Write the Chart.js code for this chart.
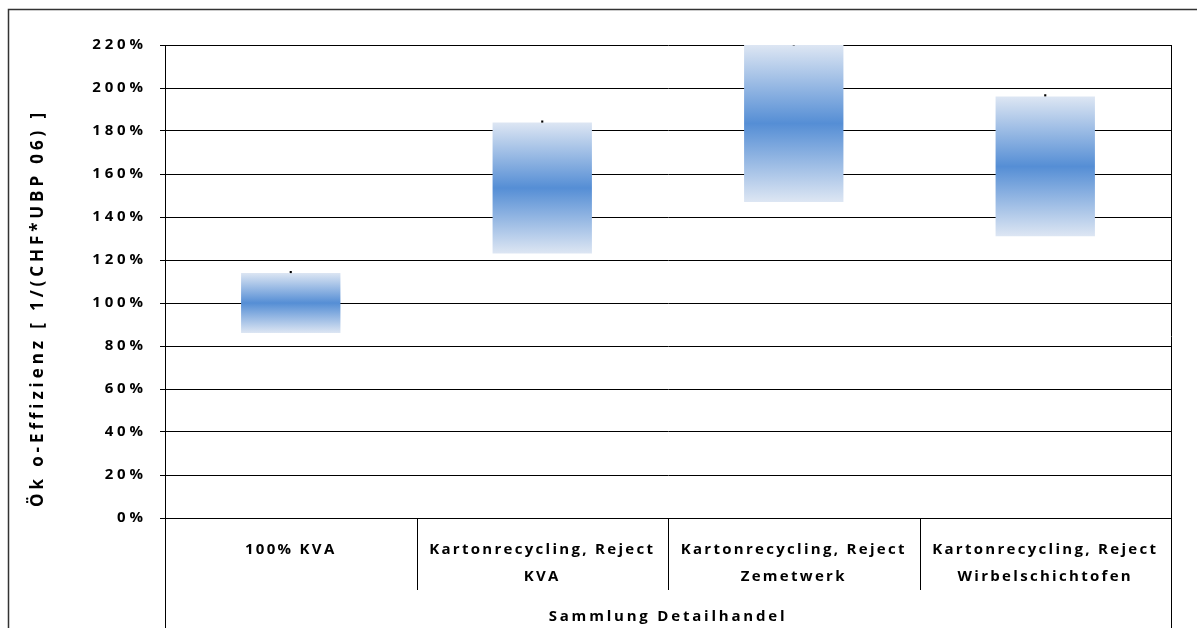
<!DOCTYPE html>
<html><head><meta charset="utf-8">
<script src="https://cdn.jsdelivr.net/npm/chart.js@4/dist/chart.umd.min.js"></script>
<style>html,body{margin:0;padding:0;background:#fff}</style>
</head><body>
<canvas id="c" width="1197" height="628"></canvas>
<script>
const categories = ["100% KVA", ["Kartonrecycling, Reject", "KVA"], ["Kartonrecycling, Reject", "Zemetwerk"], ["Kartonrecycling, Reject", "Wirbelschichtofen"]];
const lowValues = [86, 123, 147, 131];
const highValues = [114, 184, 220, 196];
const markerValues = [114.4, 184.4, 220.3, 196.6];
const yTickValues = [0, 20, 40, 60, 80, 100, 120, 140, 160, 180, 200, 220];
const groupLabel = "Sammlung Detailhandel";
const yTitle = "Ök o-Effizienz [ 1/(CHF*UBP 06) ]";

const FONT = "'Open Sans'";

function barGradient(ctx) {
  const chart = ctx.chart;
  if (!chart.chartArea || ctx.type !== 'data' || !chart.scales.y) return '#558ed5';
  const i = ctx.dataIndex;
  const top = chart.scales.y.getPixelForValue(highValues[i]);
  const bot = chart.scales.y.getPixelForValue(lowValues[i]);
  const g = chart.ctx.createLinearGradient(0, top, 0, bot);
  g.addColorStop(0, '#dde6f3');
  g.addColorStop(0.5, '#558ed5');
  g.addColorStop(1, '#dde6f3');
  return g;
}

function withSpacing(obj, name, sp) {
  const orig = obj[name].bind(obj);
  obj[name] = function (...a) {
    const c = obj.ctx;
    c.save(); c.letterSpacing = sp; orig(...a); c.restore();
  };
}

const deco = {
  id: 'deco',
  afterLayout(chart) {
    const x = chart.scales.x, y = chart.scales.y;
    if (!y._sp) {
      withSpacing(y, 'drawLabels', '3.9px');
      withSpacing(x, 'drawLabels', '2.3px');
      withSpacing(x, 'drawTitle', '2.8px');
      y._sp = true;
    }
  },
  afterDraw(chart) {
    const c = chart.ctx, a = chart.chartArea, x = chart.scales.x;
    const H = chart.height;
    c.save();
    c.strokeStyle = '#000';
    c.lineWidth = 1;
    c.beginPath();
    for (let i = 1; i < categories.length; i++) {
      const px = Math.round((x.getPixelForValue(i - 1) + x.getPixelForValue(i)) / 2) + 0.5;
      c.moveTo(px, a.bottom); c.lineTo(px, a.bottom + 72);
    }
    const l = Math.round(a.left) + 0.5, r = Math.round(a.right) + 0.5;
    c.moveTo(l, a.bottom); c.lineTo(l, H);
    c.moveTo(r, a.top); c.lineTo(r, H);
    c.stroke();
    c.strokeStyle = '#333';
    c.lineWidth = 1.5;
    c.beginPath();
    c.moveTo(8.5, H); c.lineTo(8.5, 9.5); c.lineTo(chart.width, 9.5);
    c.stroke();
    c.translate(43, 308);
    c.rotate(-Math.PI / 2);
    c.letterSpacing = '3.9px';
    c.font = "bold 17px " + FONT;
    c.fillStyle = '#000';
    c.textAlign = 'center';
    c.textBaseline = 'alphabetic';
    c.fillText(yTitle, 0, 0);
    c.restore();
  }
};

new Chart(document.getElementById('c'), {
  data: {
    labels: categories,
    datasets: [
      {
        type: 'line', data: markerValues, showLine: false,
        pointRadius: 1.5, pointStyle: 'rect', pointBackgroundColor: '#000',
        pointBorderWidth: 0, order: 0
      },
      {
        type: 'bar', data: lowValues.map((v, i) => [v, highValues[i]]),
        backgroundColor: barGradient, borderWidth: 0,
        categoryPercentage: 1, barPercentage: 0.395, order: 1
      }
    ]
  },
  options: {
    responsive: false, animation: false, devicePixelRatio: 1,
    layout: { padding: { top: 45, right: 26, left: 0, bottom: 0 } },
    plugins: { legend: { display: false }, tooltip: { enabled: false } },
    scales: {
      x: {
        grid: { display: false, drawTicks: false, tickLength: 0 },
        border: { display: true, color: '#000', width: 1 },
        ticks: {
          autoSkip: false, maxRotation: 0, minRotation: 0, padding: 18, color: '#000',
          font: { family: FONT, size: 15, weight: 'bold', lineHeight: 1.8 }
        },
        title: {
          display: true, text: groupLabel, color: '#000',
          font: { family: FONT, size: 15, weight: 'bold', lineHeight: 1.2 },
          padding: { top: 0, bottom: 2 }
        },
        afterFit(s) { s.height = 110; }
      },
      y: {
        min: 0, max: 220,
        afterBuildTicks(s) { s.ticks = yTickValues.map(v => ({ value: v })); },
        grid: { color: '#000', lineWidth: 1, tickLength: 5, drawTicks: true },
        border: { display: true, color: '#000', width: 1 },
        ticks: {
          padding: 13, color: '#000',
          font: { family: FONT, size: 15, weight: 'bold' },
          callback: v => v + '%'
        },
        title: { display: false },
        afterFit(s) { s.width = 165; }
      }
    }
  },
  plugins: [deco]
});
</script>
</body></html>
